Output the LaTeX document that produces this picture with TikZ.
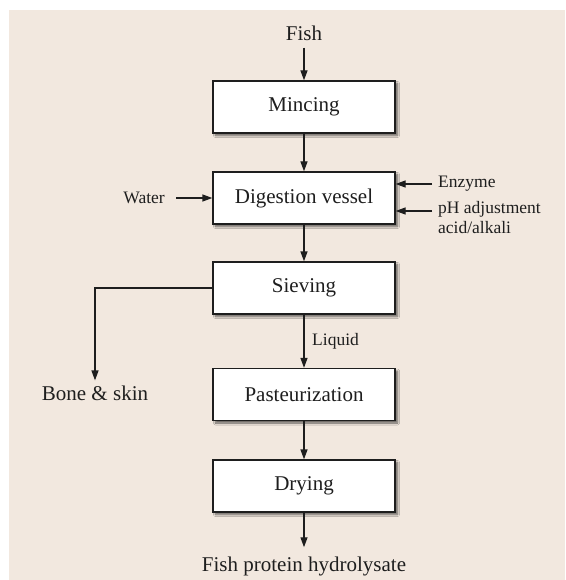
\documentclass[tikz,border=0pt]{standalone}
\usepackage{fontspec}
\setmainfont{Liberation Serif}
\usetikzlibrary{arrows.meta,shadows,shadows.blur}
\definecolor{bgc}{RGB}{242,232,223}
\definecolor{ink}{RGB}{30,30,30}
\tikzset{
  procbox/.style={draw=ink, line width=1.3pt, fill=white, minimum width=182pt, minimum height=52pt,
    inner sep=0pt, font=\fontsize{21}{25}\selectfont, text=ink,
    blur shadow={shadow xshift=2.5pt, shadow yshift=-2.5pt, shadow blur radius=2pt, shadow blur steps=6, shadow opacity=60}},
  bigtxt/.style={font=\fontsize{21}{25}\selectfont, text=ink, inner sep=0pt},
  smalltxt/.style={font=\fontsize{17.5}{20}\selectfont, text=ink, inner sep=0pt},
  flow/.style={draw=ink, line width=1.3pt, -{Triangle[length=10pt,width=7pt]}}
}
\begin{document}
\begin{tikzpicture}[x=1pt,y=-1pt]
\useasboundingbox (0,0) rectangle (565,580);
\fill[bgc] (8.6,9.7) rectangle (565,580);

\node[bigtxt] (fish) at (304,33) {Fish};
\node[procbox] (minc) at (304,107) {Mincing};
\node[procbox] (dig) at (304,198) {Digestion vessel};
\node[procbox] (siev) at (304,288) {Sieving};
\node[procbox] (past) at (304,394.5) {Pasteurization};
\node[procbox] (dry) at (304,486) {Drying};
\node[bigtxt] (fph) at (304,566) {Fish protein hydrolysate};
\node[bigtxt] (bone) at (95,393) {Bone \& skin};

\node[smalltxt, anchor=east, inner xsep=11pt] (water) at (176,198) {Water};
\node[smalltxt, anchor=west, inner xsep=6pt] (enz) at (432,184) {Enzyme};
\coordinate (phs) at (432,211);
\node[smalltxt, anchor=north west, align=left] (ph) at (438,201) {pH adjustment\\acid/alkali};
\node[smalltxt, anchor=west] (liq) at (312,341) {Liquid};

\draw[flow] ([yshift=-7pt]fish.south) -- (minc.north);
\draw[flow] (minc.south) -- (dig.north);
\draw[flow] (dig.south) -- (siev.north);
\draw[flow] (siev.south) -- (past.north);
\draw[flow] (past.south) -- (dry.north);
\draw[flow] (dry.south) -- ([yshift=9pt]fph.north);
\draw[flow] (water.east) -- (dig.west);
\draw[flow] (enz.west) -- (enz.west -| dig.east);
\draw[flow] (phs) -- (phs -| dig.east);
\draw[flow] (siev.west) -| ([yshift=5pt]bone.north);
\end{tikzpicture}
\end{document}
